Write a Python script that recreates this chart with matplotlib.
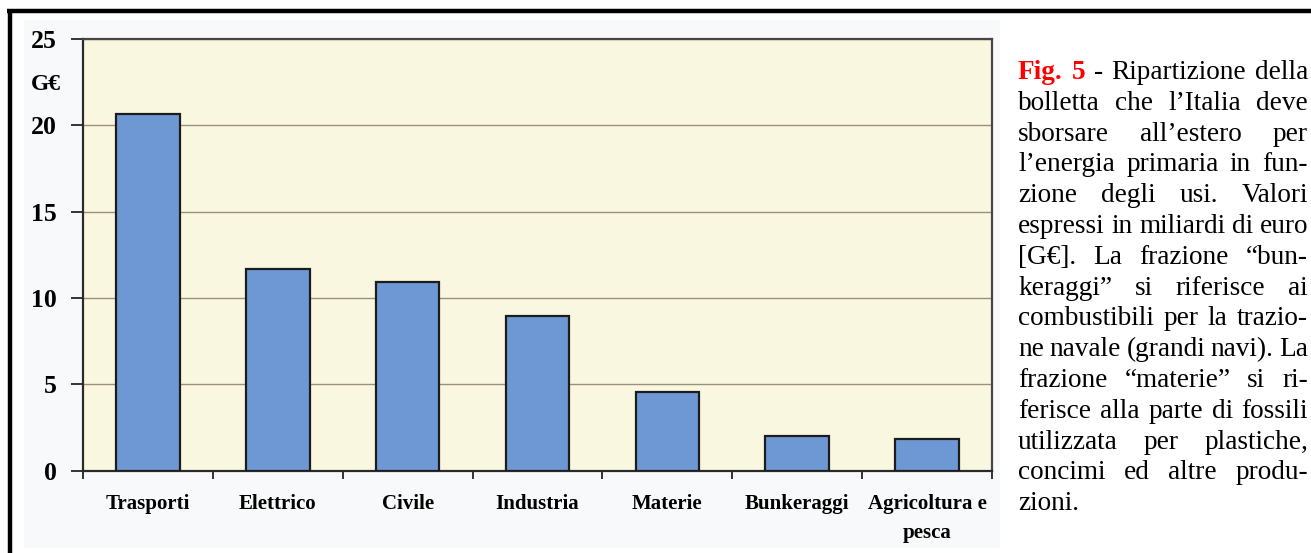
import numpy as np
import matplotlib
matplotlib.use('Agg')
import matplotlib.pyplot as plt
from matplotlib.lines import Line2D
from matplotlib.patches import Rectangle

categories = ['Trasporti', 'Elettrico', 'Civile', 'Industria', 'Materie',
              'Bunkeraggi', 'Agricoltura e\npesca']
values = [20.65, 11.68, 10.9, 8.97, 4.55, 1.98, 1.82]
yticks = [0, 5, 10, 15, 20, 25]

caption = [
    'Fig. 5 - Ripartizione della',
    'bolletta che l\u2019Italia deve',
    'sborsare all\u2019estero per',
    'l\u2019energia primaria in fun-',
    'zione degli usi. Valori',
    'espressi in miliardi di euro',
    '[G\u20ac]. La frazione \u201cbun-',
    'keraggi\u201d si riferisce ai',
    'combustibili per la trazio-',
    'ne navale (grandi navi). La',
    'frazione \u201cmaterie\u201d si ri-',
    'ferisce alla parte di fossili',
    'utilizzata per plastiche,',
    'concimi ed altre produ-',
    'zioni.',
]

W, H = 1311, 553
fig = plt.figure(figsize=(W / 100, H / 100), dpi=100)
serif = 'Liberation Serif'

# light panel behind the chart and the black frame
fig.patches.append(Rectangle((24 / W, 1 - 548 / H), (1000 - 24) / W, (548 - 20) / H,
                             transform=fig.transFigure, facecolor='#f8f9fa',
                             edgecolor='none', zorder=-5))
fig.lines.append(Line2D([9.5 / W, 9.5 / W], [0, 1 - 9 / H], transform=fig.transFigure,
                        color='black', lw=3.2, solid_capstyle='butt'))
fig.lines.append(Line2D([7.3 / W, 1], [1 - 11 / H, 1 - 11 / H], transform=fig.transFigure,
                        color='black', lw=3.2, solid_capstyle='butt'))

ax = fig.add_axes([83 / W, 1 - 470.5 / H, (992 - 83) / W, (470.5 - 39) / H])
ax.set_zorder(2)
ax.set_facecolor('#faf7e0')
x = np.arange(len(categories))
ax.bar(x, values, width=0.49, color='#6e98d4', edgecolor='#1c1c1c', linewidth=1.6, zorder=3)
ax.set_xlim(-0.5, len(categories) - 0.5)
ax.set_ylim(0, 25)
ax.set_yticks(yticks)
ax.set_yticklabels([str(v) for v in yticks], fontfamily=serif, fontweight='bold', fontsize=18.5)
ax.grid(axis='y', color='#9c8f7e', linewidth=1.0, zorder=1)
ax.set_xticks(np.arange(len(categories) + 1) - 0.5)
ax.set_xticklabels([])
ax.set_xticks(x, minor=True)
ax.set_xticklabels(categories, minor=True, fontfamily=serif, fontweight='bold', fontsize=15,
                   linespacing=1.6, va='top')
ax.tick_params(axis='x', which='major', length=6, width=1.4, color='#333333', direction='out')
ax.tick_params(axis='x', which='minor', length=0, pad=17)
ax.tick_params(axis='y', length=9, width=1.4, color='#333333', pad=10)
for s in ax.spines.values():
    s.set_color('#4a4540')
    s.set_linewidth(1.6)
ax.spines['left'].set_color('#2a2a2a')
ax.spines['bottom'].set_color('#2a2a2a')

fig.text(46 / W, 1 - 85 / H, 'G\u20ac', fontfamily=serif, fontweight='bold', fontsize=17,
         ha='center', va='center')

# justified caption
renderer = fig.canvas.get_renderer()
left, right = 1018, 1308
base0, step = 79, 30.8
fs = 19.6
for i, line in enumerate(caption):
    words = line.split(' ')
    texts = []
    for j, w in enumerate(words):
        red = (i == 0 and j < 2)
        t = fig.text(0, 0, w, fontfamily=serif, fontsize=fs,
                     fontweight='bold' if red else 'normal',
                     color='#ff0000' if red else 'black', va='baseline', ha='left')
        texts.append(t)
    widths = [t.get_window_extent(renderer).width for t in texts]
    y = 1 - (base0 + i * step) / H
    if i == len(caption) - 1 or len(words) == 1:
        gap = fs * 1.389 * 0.25
    else:
        gap = (right - left - sum(widths)) / (len(words) - 1)
    xp = left
    for t, w in zip(texts, widths):
        t.set_position((xp / W, y))
        xp += w + gap

fig.savefig('out.png', dpi=100)
